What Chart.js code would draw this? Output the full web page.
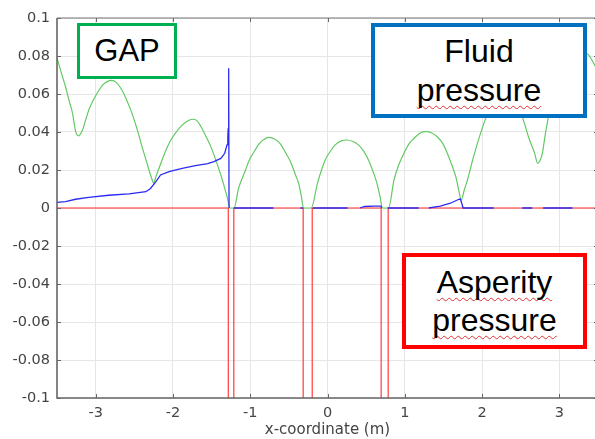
<!DOCTYPE html>
<html>
<head>
<meta charset="utf-8">
<script src="https://cdn.jsdelivr.net/npm/chart.js@4.4.1/dist/chart.umd.min.js"></script>
<style>
  html, body { margin: 0; padding: 0; background: #fff; overflow: hidden; }
  #wrap { position: relative; width: 600px; height: 439px; }
  canvas { position: absolute; left: 0; top: 0; }
  .box {
    position: absolute; box-sizing: border-box; background: #fff;
    display: flex; align-items: center; justify-content: center; text-align: center;
    font-family: "Liberation Sans", Arial, sans-serif; color: #000;
    font-size: 32px; line-height: 38.4px;
  }
  .sq { text-decoration: underline wavy #e03030; text-decoration-thickness: 1px; text-underline-offset: 4px; text-decoration-skip-ink: none; }
</style>
</head>
<body>
<div id="wrap">
  <canvas id="c" width="600" height="439"></canvas>
  <div class="box" style="left:77px;top:23px;width:100px;height:56px;border:3.5px solid #00B050;font-size:31px;">GAP</div>
  <div class="box" style="left:371px;top:23px;width:216px;height:95px;border:4px solid #0070C0;"><div>Fluid<br><span class="sq">pressure</span></div></div>
  <div class="box" style="left:402px;top:253px;width:185px;height:96px;border:4px solid #FF0000;"><div><span class="sq">Asperity</span><br><span class="sq">pressure</span></div></div>
</div>
<script>
// ---- data ----
const xTicks = [-3, -2, -1, 0, 1, 2, 3];
const yTicks = [-0.1, -0.08, -0.06, -0.04, -0.02, 0, 0.02, 0.04, 0.06, 0.08, 0.1];
const yTickLabels = ["-0.1", "-0.08", "-0.06", "-0.04", "-0.02", "0", "0.02", "0.04", "0.06", "0.08", "0.1"];

// GAP (green)
const gapX = [-3.50,-3.45,-3.39,-3.34,-3.30,-3.26,-3.22,-3.17,-3.13,-3.08,-3.04,-2.97,-2.91,-2.85,-2.80,-2.73,-2.66,-2.60,-2.53,-2.46,-2.40,-2.35,-2.31,-2.27,-2.25,-2.22,-2.18,-2.09,-2.03,-1.97,-1.89,-1.81,-1.75,-1.69,-1.64,-1.57,-1.51,-1.43,-1.36,-1.30,-1.26,-1.21,
  -1.15,-1.06,-1.02,-0.95,-0.89,-0.84,-0.76,-0.68,-0.61,-0.52,-0.48,-0.41,-0.37,-0.34,-0.31,-0.21,
  -0.13,-0.03,0.04,0.10,0.17,0.25,0.33,0.40,0.47,0.53,0.60,0.64,0.68,0.71,0.79,
  0.86,0.92,0.99,1.05,1.12,1.20,1.27,1.35,1.42,1.49,1.55,1.61,1.66,1.70,1.73,1.77,1.81,1.89,1.98,2.07,2.15,2.25,2.35,2.45,2.52,2.56,2.60,2.68,2.72,2.75,2.78,2.82,2.86,2.95,3.05,3.15,3.25,3.33,3.38,3.47,3.50];
const gapY = [0.0790,0.0720,0.0638,0.0560,0.0500,0.0405,0.0380,0.0410,0.0463,0.0525,0.0560,0.0612,0.0647,0.0665,0.0672,0.0660,0.0621,0.0570,0.0498,0.0410,0.0323,0.0255,0.0200,0.0150,0.0130,0.0165,0.0209,0.0305,0.0355,0.0393,0.0432,0.0458,0.0467,0.0460,0.0430,0.0375,0.0323,0.0235,0.0147,0.0060,0.0000,0.0000,
  0.0105,0.0200,0.0245,0.0296,0.0335,0.0356,0.0372,0.0362,0.0338,0.0275,0.0245,0.0170,0.0125,0.0065,0.0000,0.0000,
  0.0130,0.0253,0.0300,0.0332,0.0352,0.0358,0.0350,0.0332,0.0298,0.0253,0.0180,0.0130,0.0060,0.0000,0.0000,
  0.0147,0.0225,0.0288,0.0335,0.0367,0.0395,0.0402,0.0395,0.0375,0.0340,0.0288,0.0225,0.0165,0.0090,0.0042,0.0095,0.0147,0.0270,0.0393,0.0498,0.0580,0.0640,0.0640,0.0570,0.0480,0.0430,0.0375,0.0288,0.0235,0.0250,0.0288,0.0393,0.0480,0.0620,0.0720,0.0790,0.0820,0.0815,0.0805,0.0742,0.0720];

// Fluid pressure (blue); null = gap in the line
const fluidX = [-3.50,-3.39,-3.26,-3.09,-2.83,-2.57,-2.35,-2.29,-2.22,-2.16,-2.05,-1.88,-1.71,-1.55,-1.47,-1.38,-1.33,-1.30,-1.29,-1.285,-1.282,-1.278,-1.276,-1.274,-1.27,-1.24,
  -1.21,-0.70,-0.60,-0.35,-0.32,-0.25,-0.19,0.26,0.35,0.42,0.48,0.60,0.69,0.70,0.74,0.78,1.18,1.25,1.31,1.46,1.59,1.70,1.72,1.755,2.15,2.30,2.52,2.65,2.70,2.79,3.17];
const fluidY = [0.0030,0.0033,0.0046,0.0056,0.0067,0.0074,0.0086,0.0103,0.0139,0.0174,0.0191,0.0209,0.0223,0.0234,0.0244,0.0261,0.0288,0.0332,0.0367,0.0420,0.0360,0.0370,0.0735,0.0000,0.0000,null,
  0,0,null,0,0,null,0,0,null,0,0.0008,0.0010,0.0010,0,null,0,0,null,0,0.0010,0.0025,0.0046,0.0047,0,0,null,0,0,null,0,0];

// Asperity pressure (red)
const asperityX = [-3.5,-1.284,-1.284,-1.212,-1.212,-0.315,-0.315,-0.198,-0.198,0.694,0.694,0.785,0.785,3.5];
const asperityY = [0,0,-0.5,-0.5,0,0,-0.5,-0.5,0,0,-0.5,-0.5,0,0];

const pts = (xs, ys) => xs.map((x, i) => ({ x: x, y: ys[i] }));

const frame = {
  id: 'frame',
  afterDatasetsDraw(chart) {
    const { ctx, chartArea: a, scales } = chart;
    ctx.save();
    ctx.strokeStyle = '#666';
    ctx.lineWidth = 1;
    ctx.beginPath();
    xTicks.forEach(v => {
      const px = Math.round(scales.x.getPixelForValue(v)) + 0.5;
      ctx.moveTo(px, a.bottom); ctx.lineTo(px, a.bottom - 4);
      ctx.moveTo(px, a.top); ctx.lineTo(px, a.top + 4);
    });
    yTicks.forEach(v => {
      const py = Math.round(scales.y.getPixelForValue(v)) + 0.5;
      ctx.moveTo(a.left, py); ctx.lineTo(a.left + 4, py);
      ctx.moveTo(a.right, py); ctx.lineTo(a.right - 4, py);
    });
    ctx.stroke();
    ctx.strokeStyle = '#666';
    ctx.lineWidth = 1.6;
    ctx.beginPath();
    ctx.moveTo(a.left, a.top); ctx.lineTo(a.left, a.bottom); ctx.lineTo(a.right, a.bottom);
    ctx.stroke();
    ctx.lineWidth = 1.2;
    ctx.strokeStyle = '#777';
    ctx.beginPath();
    ctx.moveTo(a.left, a.top); ctx.lineTo(a.right, a.top);
    ctx.stroke();
    ctx.restore();
  }
};

const tickFont = { family: 'DejaVu Sans', size: 14.5 };

new Chart(document.getElementById('c'), {
  type: 'scatter',
  data: {
    datasets: [
      { label: 'Fluid pressure', data: pts(fluidX, fluidY), showLine: true, spanGaps: false,
        borderColor: '#2b2bf5', borderWidth: 1.3, pointRadius: 0, tension: 0, order: 0 },
      { label: 'Asperity pressure', data: pts(asperityX, asperityY), showLine: true,
        borderColor: '#ff2a2a', borderWidth: 1.1, pointRadius: 0, tension: 0, order: 1 },
      { label: 'GAP', data: pts(gapX, gapY), showLine: true,
        borderColor: '#63c963', borderWidth: 1.2, pointRadius: 0, cubicInterpolationMode: 'monotone', order: 2 }
    ]
  },
  options: {
    responsive: false,
    animation: false,
    devicePixelRatio: 1,
    layout: { padding: { top: 18, right: 2, left: 0, bottom: 0 } },
    plugins: { legend: { display: false }, tooltip: { enabled: false } },
    scales: {
      x: {
        type: 'linear', min: -3.5, max: 3.5,
        afterBuildTicks: s => { s.ticks = xTicks.map(v => ({ value: v })); },
        afterFit: s => { s.height = 41; },
        grid: { color: '#e6e6e6', lineWidth: 1, drawTicks: false },
        border: { display: false },
        ticks: { autoSkip: false, maxRotation: 0, padding: 7, color: '#444', font: tickFont,
                 callback: v => String(v) },
        title: { display: true, text: 'x-coordinate (m)', color: '#444', font: { family: 'DejaVu Sans', size: 15 }, padding: 0 }
      },
      y: {
        type: 'linear', min: -0.1, max: 0.1,
        afterBuildTicks: s => { s.ticks = yTicks.map(v => ({ value: v })); },
        afterFit: s => { s.width = 57; },
        grid: { color: '#e6e6e6', lineWidth: 1, drawTicks: false },
        border: { display: false },
        ticks: { autoSkip: false, padding: 7, color: '#444', font: tickFont,
                 callback: v => { const i = yTicks.findIndex(t => Math.abs(t - v) < 1e-9); return i >= 0 ? yTickLabels[i] : ''; } }
      }
    }
  },
  plugins: [frame]
});
</script>
</body>
</html>
